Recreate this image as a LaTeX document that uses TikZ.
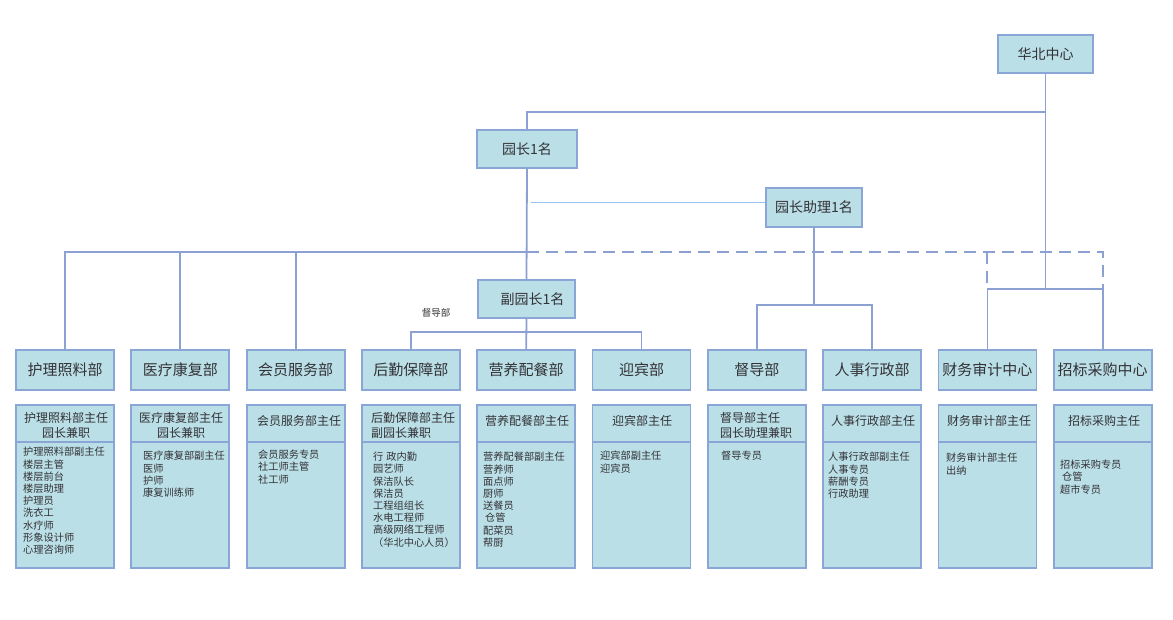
\documentclass[tikz,border=0pt]{standalone}
\usepackage{fontspec}
\setmainfont{Noto Sans CJK SC}
\definecolor{lnc}{RGB}{140,160,210}
\definecolor{bdc}{RGB}{138,166,214}
\definecolor{flc}{RGB}{187,223,230}
\definecolor{txc}{RGB}{50,50,55}
\definecolor{thc}{RGB}{155,195,238}
\begin{document}
\begin{tikzpicture}[x=1pt,y=-1pt,
  ln/.style={draw=lnc, line width=1.8pt},
  dsh/.style={draw=lnc, line width=2pt, dash pattern=on 12pt off 7pt},
  thinln/.style={draw=thc, line width=1pt},
  bx/.style={draw=bdc, fill=flc, line width=1.8pt, inner sep=0pt, text=txc},
  topbox/.style={bx, minimum width=97pt, minimum height=38pt, font=\fontsize{14}{16}\selectfont},
  dept/.style={bx, minimum width=98pt, minimum height=40pt, font=\fontsize{15}{17}\selectfont},
  low/.style={bx, minimum width=98pt, minimum height=163pt},
  divl/.style={draw=bdc, line width=1.5pt},
  hd/.style={text=txc, font=\fontsize{12}{15}\selectfont, align=center, inner sep=0pt},
  hdl/.style={hd, align=left, anchor=west},
  lst/.style={text=txc, font=\fontsize{10.2}{12.2}\selectfont, align=left, inner sep=0pt, anchor=north west},
  note/.style={text=txc, font=\fontsize{9.5}{11}\selectfont, inner sep=0pt},
]
\useasboundingbox[fill=white] (0,0) rectangle (1173,620);

% top boxes
\node[topbox, minimum width=95pt] (hb) at (1045.5,54) {华北中心};
\node[topbox, minimum width=100pt] (yz) at (527,149) {园长1名};
\node[topbox, minimum width=96pt, minimum height=39pt] (zl) at (814,207.5) {园长助理1名};
\node[topbox] (fyz) at (526.5,299) {\hspace*{12pt}副园长1名};
\node[note] (ddlabel) at (436,313) {督导部};

% department boxes
\node[dept] (d0) at (65,370) {护理照料部};
\node[dept] (d1) at (180.3,370) {医疗康复部};
\node[dept] (d2) at (295.6,370) {会员服务部};
\node[dept] (d3) at (410.9,370) {后勤保障部};
\node[dept] (d4) at (526.2,370) {营养配餐部};
\node[dept] (d5) at (641.5,370) {迎宾部};
\node[dept] (d6) at (756.8,370) {督导部};
\node[dept] (d7) at (872.1,370) {人事行政部};
\node[dept] (d8) at (987.4,370) {财务审计中心};
\node[dept] (d9) at (1102.7,370) {招标采购中心};

% lower boxes
\foreach \i/\xc in {0/65,1/180.3,2/295.6,3/410.9,4/526.2,5/641.5,6/756.8,7/872.1,8/987.4,9/1102.7}{
  \node[low] (l\i) at (\xc,486.5) {};
  \draw[divl] ([yshift=-38pt]l\i.north west) -- ([yshift=-38pt]l\i.north east);
}

% headers of lower boxes
\node[hd] (h0) at (66,425.5) {护理照料部主任\\园长兼职};
\node[hd] (h1) at (181,425.5) {医疗康复部主任\\园长兼职};
\node[hd] (h2) at (299,421) {会员服务部主任};
\node[hdl] (h3) at (371,425.5) {后勤保障部主任\\副园长兼职};
\node[hd] (h4) at (527,421) {营养配餐部主任};
\node[hd] (h5) at (642,421) {迎宾部主任};
\node[hdl] (h6) at (720,425.5) {督导部主任\\园长助理兼职};
\node[hd] (h7) at (873,421) {人事行政部主任};
\node[hd] (h8) at (989,421) {财务审计部主任};
\node[hd] (h9) at (1104,421) {招标采购主任};

% lists
\node[lst] (s0) at (23,447) {护理照料部副主任\\楼层主管\\楼层前台\\楼层助理\\护理员\\洗衣工\\水疗师\\形象设计师\\心理咨询师};
\node[lst] (s1) at (143,451) {医疗康复部副主任\\医师\\护师\\康复训练师};
\node[lst] (s2) at (258,450) {会员服务专员\\社工师主管\\社工师};
\node[lst] (s3) at (373,452) {行\hspace{3pt}政内勤\\园艺师\\保洁队长\\保洁员\\工程组组长\\水电工程师\\高级网络工程师\\（华北中心人员）};
\node[lst] (s4) at (483,452) {营养配餐部副主任\\营养师\\面点师\\厨师\\送餐员\\\hspace*{2pt}仓管\\配菜员\\帮厨};
\node[lst] (s5) at (600,451) {迎宾部副主任\\迎宾员};
\node[lst] (s6) at (721,451) {督导专员};
\node[lst] (s7) at (828,452) {人事行政部副主任\\人事专员\\薪酬专员\\行政助理};
\node[lst] (s8) at (946,453) {财务审计部主任\\出纳};
\node[lst] (s9) at (1060,460) {招标采购专员\\\hspace*{2pt}仓管\\超市专员};

% junction coordinates
\coordinate (jT) at (1045.5,112);
\coordinate (jF) at (1045.5,289);
\coordinate (jA) at (531,203);
\coordinate (jB) at (527,252);
\coordinate (jD) at (814,305);
\coordinate (jV) at (527,332);
\coordinate (b8) at (987.4,252);
\coordinate (b9) at (1102.7,252);
\coordinate (c8) at (987.4,289);
\coordinate (c9) at (1102.7,289);

% connectors
\draw[ln] (hb.south) -- (jF);
\draw[ln] (jT) -| (yz.north);
\draw[ln] (yz.south) -- (fyz.north);
\draw[thinln] (jA) -- (zl.west |- jA);
\draw[ln] (d0.north) |- (jB);
\draw[ln] (d1.north) -- (d1.north |- jB);
\draw[ln] (d2.north) -- (d2.north |- jB);
\draw[dsh] (jB) -- (b9) -- (c9);
\draw[dsh] (b8) -- (c8);
\draw[ln] (c8) -- (c9);
\draw[ln] (c8) -- (d8.north);
\draw[ln] (c9) -- (d9.north);
\draw[ln] (zl.south) -- (jD);
\draw[ln] (d6.north) |- (jD) -| (d7.north);
\draw[ln] (fyz.south) -- (d4.north);
\draw[ln] (d3.north) |- (jV) -| (d5.north);
\end{tikzpicture}
\end{document}
